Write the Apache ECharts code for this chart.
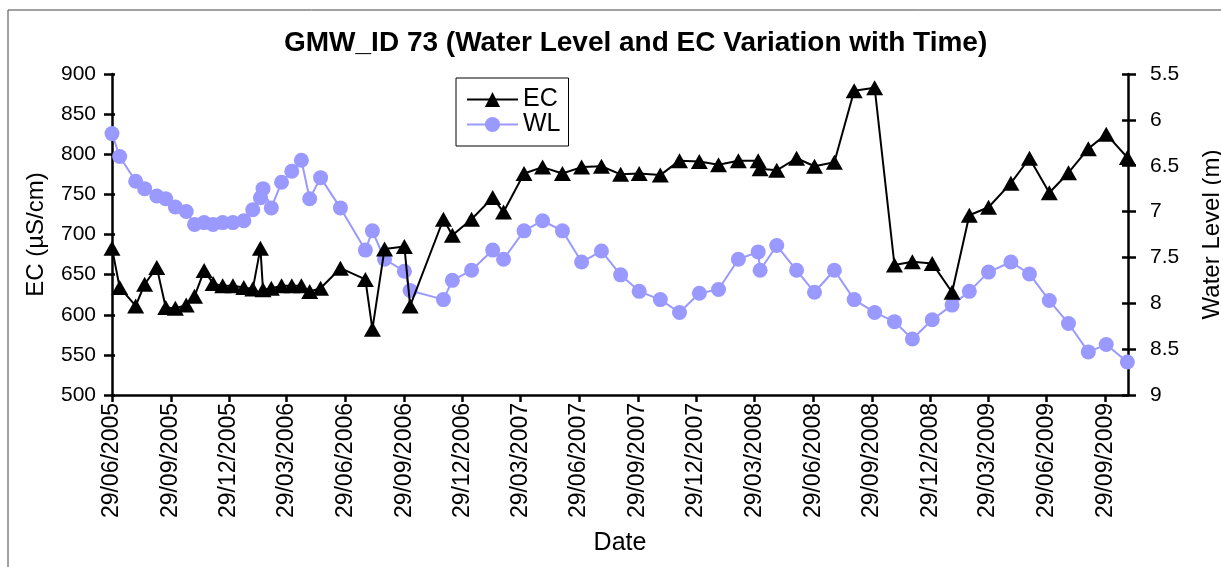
<!DOCTYPE html>
<html>
<head>
<meta charset="utf-8">
<script src="https://cdn.jsdelivr.net/npm/echarts@6/dist/echarts.min.js"></script>
<style>html,body{margin:0;padding:0;background:#fff;}#chart{width:1221px;height:567px;}</style>
</head>
<body>
<div id="chart"></div>
<script>
const titleText = 'GMW_ID 73 (Water Level and EC Variation with Time)';
const tickLabels = ['29/06/2005','29/09/2005','29/12/2005','29/03/2006','29/06/2006','29/09/2006','29/12/2006','29/03/2007','29/06/2007','29/09/2007','29/12/2007','29/03/2008','29/06/2008','29/09/2008','29/12/2008','29/03/2009','29/06/2009','29/09/2009'];
const axisStart = '2005-06-29';
const axisEnd = '2009-11-03';
const dates = ['2005-06-29','2005-07-11','2005-08-05','2005-08-19','2005-09-07','2005-09-21','2005-10-06','2005-10-23','2005-11-05','2005-11-20','2005-12-04','2005-12-19','2006-01-04','2006-01-21','2006-02-04','2006-02-16','2006-02-20','2006-03-05','2006-03-21','2006-04-06','2006-04-21','2006-05-04','2006-05-21','2006-06-21','2006-07-30','2006-08-10','2006-08-29','2006-09-29','2006-10-08','2006-11-29','2006-12-13','2007-01-12','2007-02-14','2007-03-03','2007-04-04','2007-05-03','2007-06-03','2007-07-03','2007-08-03','2007-09-02','2007-10-01','2007-11-03','2007-12-03','2008-01-03','2008-02-02','2008-03-04','2008-04-04','2008-04-07','2008-05-03','2008-06-03','2008-07-01','2008-08-01','2008-09-01','2008-10-03','2008-11-03','2008-12-01','2009-01-01','2009-02-01','2009-02-28','2009-03-30','2009-05-04','2009-06-02','2009-07-03','2009-08-02','2009-09-02','2009-09-30','2009-11-02'];
const ecValues = [683,634,611,638,659,609,608,612,623,655,639,636,636,634,632,683,631,633,636,636,636,629,633,658,644,582,682,685,611,719,699,719,746,728,776,784,776,784,785,775,776,774,792,791,787,792,792,782,780,795,785,790,879,883,662,666,664,628,724,734,764,795,752,777,807,825,796];
const wlValues = [6.15,6.40,6.67,6.75,6.83,6.86,6.95,7.00,7.14,7.12,7.14,7.12,7.12,7.10,6.98,6.85,6.75,6.96,6.68,6.56,6.44,6.86,6.63,6.96,7.42,7.21,7.52,7.65,7.86,7.96,7.75,7.64,7.42,7.52,7.21,7.10,7.21,7.55,7.43,7.69,7.87,7.96,8.10,7.89,7.85,7.52,7.44,7.64,7.37,7.64,7.88,7.64,7.96,8.10,8.20,8.39,8.18,8.02,7.87,7.66,7.55,7.68,7.97,8.22,8.53,8.45,8.64];

function isoTs(s){const p=s.split('-').map(Number);return new Date(p[0],p[1]-1,p[2]).getTime();}
function dmyTs(s){const p=s.split('/').map(Number);return new Date(p[2],p[1]-1,p[0]).getTime();}
const tickTs = tickLabels.map(dmyTs);
const labelByTs = {};
tickTs.forEach((t,i)=>{labelByTs[t]=tickLabels[i];});
const ecData = dates.map((d,i)=>[isoTs(d), ecValues[i]]);
const wlData = dates.map((d,i)=>[isoTs(d), wlValues[i]]);

const FONT = 'Liberation Sans, Arial, sans-serif';
const chart = echarts.init(document.getElementById('chart'), null, {renderer:'canvas'});
const axisLineStyle = {color:'#000', width:2.5};
chart.setOption({
  animation:false,
  textStyle:{fontFamily:FONT, color:'#000'},
  title:{text:titleText, left:279, top:24, textStyle:{fontFamily:FONT, fontWeight:'bold', fontSize:28, color:'#000'}},
  graphic:[{type:'rect', shape:{x:8, y:10, width:1400, height:700}, style:{fill:'none', stroke:'#444', lineWidth:1}, silent:true, z:-1}],
  legend:{
    orient:'vertical', left:456, top:78, padding:[9,8,9,10], itemGap:0,
    borderColor:'#000', borderWidth:1, backgroundColor:'#fff',
    itemWidth:51, itemHeight:19,
    textStyle:{fontFamily:FONT, fontSize:25, color:'#000', lineHeight:23},
    data:['EC','WL']
  },
  grid:{left:112, right:93, top:74, bottom:172, containLabel:false, outerBoundsMode:'none'},
  xAxis:{
    type:'value', min:isoTs(axisStart), max:isoTs(axisEnd),
    name:'Date', nameLocation:'middle', nameGap:136,
    nameTextStyle:{fontFamily:FONT, fontSize:25, color:'#000'},
    axisLine:{lineStyle:axisLineStyle},
    axisTick:{show:true, length:7, lineStyle:{color:'#000', width:2.5}, customValues:tickTs},
    axisLabel:{rotate:90, margin:8, fontSize:23, color:'#000', fontFamily:FONT, customValues:tickTs,
      formatter:function(v){return labelByTs[v] || '';}, hideOverlap:false, showMinLabel:true, showMaxLabel:true},
    splitLine:{show:false}
  },
  yAxis:[
    {type:'value', position:'left', min:500, max:900, interval:50,
     name:'EC (µS/cm)', nameLocation:'middle', nameGap:64, nameRotate:90,
     nameTextStyle:{fontFamily:FONT, fontSize:24, color:'#000'},
     axisLine:{show:true, lineStyle:axisLineStyle},
     axisTick:{show:true, length:8, lineStyle:{color:'#000', width:2.5}},
     axisLabel:{margin:16, fontSize:21, color:'#000', fontFamily:FONT},
     splitLine:{show:false}},
    {type:'value', position:'right', min:5.5, max:9, interval:0.5, inverse:true,
     name:'Water Level (m)', nameLocation:'middle', nameGap:72, nameRotate:90,
     nameTextStyle:{fontFamily:FONT, fontSize:24, color:'#000'},
     axisLine:{show:true, lineStyle:axisLineStyle},
     axisTick:{show:true, length:8, lineStyle:{color:'#000', width:2.5}},
     axisLabel:{margin:22, fontSize:21, color:'#000', fontFamily:FONT},
     splitLine:{show:false}},
    {type:'value', position:'left', min:500, max:900, interval:50,
     axisLine:{show:false}, axisLabel:{show:false}, splitLine:{show:false},
     axisTick:{show:true, inside:true, length:3, lineStyle:{color:'#000', width:2.5}}},
    {type:'value', position:'right', min:5.5, max:9, interval:0.5, inverse:true,
     axisLine:{show:false}, axisLabel:{show:false}, splitLine:{show:false},
     axisTick:{show:true, inside:true, length:6, lineStyle:{color:'#000', width:2.5}}}
  ],
  series:[
    {name:'EC', type:'line', yAxisIndex:0, data:ecData, clip:false,
     symbol:'triangle', symbolSize:[17,15], showAllSymbol:true,
     lineStyle:{color:'#000', width:2}, itemStyle:{color:'#000'}, z:3},
    {name:'WL', type:'line', yAxisIndex:1, data:wlData, clip:false,
     symbol:'circle', symbolSize:15, showAllSymbol:true,
     lineStyle:{color:'#9999FF', width:2}, itemStyle:{color:'#9999FF'}, z:2}
  ]
});
</script>
</body>
</html>
